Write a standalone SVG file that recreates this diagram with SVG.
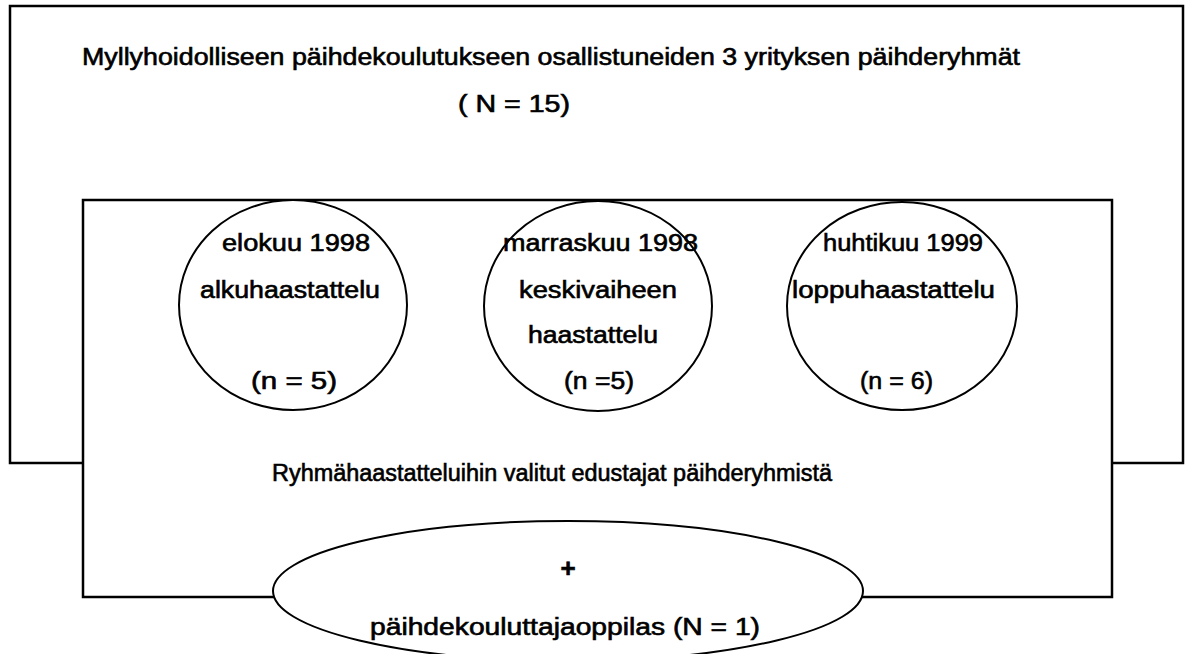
<svg xmlns="http://www.w3.org/2000/svg" width="1188" height="654" viewBox="0 0 1188 654">
<style>
.box{fill:#fff;stroke:#000;stroke-width:2.5}
.sh{fill:#fff;stroke:#000;stroke-width:2}
text{font-family:"Liberation Sans",Arial,Helvetica,sans-serif;font-size:23px;fill:#000;stroke:#000;stroke-width:0.6}
.m{text-anchor:middle}
.p{font-size:26px;font-weight:bold}
</style>
<rect width="1188" height="654" fill="#fff"/>
<g id="outer">
<rect class="box" x="10" y="6" width="1173" height="457"/>
<text x="82" y="65" textLength="938" lengthAdjust="spacingAndGlyphs">Myllyhoidolliseen päihdekoulutukseen osallistuneiden 3 yrityksen päihderyhmät</text>
<text x="458" y="112" textLength="112" lengthAdjust="spacingAndGlyphs">( N = 15)</text>
</g>
<g id="inner">
<rect class="box" x="83" y="200" width="1029" height="397"/>
<text x="272" y="481" textLength="560" lengthAdjust="spacingAndGlyphs">Ryhmähaastatteluihin valitut edustajat päihderyhmistä</text>
</g>
<g id="circle1">
<ellipse class="sh" cx="293" cy="305" rx="114" ry="105"/>
<text x="222" y="251" textLength="148" lengthAdjust="spacingAndGlyphs">elokuu 1998</text>
<text x="200" y="298" textLength="180" lengthAdjust="spacingAndGlyphs">alkuhaastattelu</text>
<text x="251" y="389" textLength="86" lengthAdjust="spacingAndGlyphs">(n = 5)</text>
</g>
<g id="circle2">
<ellipse class="sh" cx="598" cy="306" rx="114" ry="105"/>
<text x="503" y="251" textLength="195" lengthAdjust="spacingAndGlyphs">marraskuu 1998</text>
<text x="519" y="298" textLength="158" lengthAdjust="spacingAndGlyphs">keskivaiheen</text>
<text x="528" y="343" textLength="130" lengthAdjust="spacingAndGlyphs">haastattelu</text>
<text x="564" y="389" textLength="70" lengthAdjust="spacingAndGlyphs">(n =5)</text>
</g>
<g id="circle3">
<ellipse class="sh" cx="902" cy="306" rx="115" ry="104"/>
<text x="823" y="251" textLength="160" lengthAdjust="spacingAndGlyphs">huhtikuu 1999</text>
<text x="792" y="298" textLength="203" lengthAdjust="spacingAndGlyphs">loppuhaastattelu</text>
<text x="860" y="389" textLength="73" lengthAdjust="spacingAndGlyphs">(n = 6)</text>
</g>
<g id="trainee">
<ellipse class="sh" cx="568" cy="591" rx="295" ry="70"/>
<text class="m p" x="568" y="577">+</text>
<text x="370" y="635" textLength="390" lengthAdjust="spacingAndGlyphs">päihdekouluttajaoppilas (N = 1)</text>
</g>
<g id="connectors"></g>
</svg>
